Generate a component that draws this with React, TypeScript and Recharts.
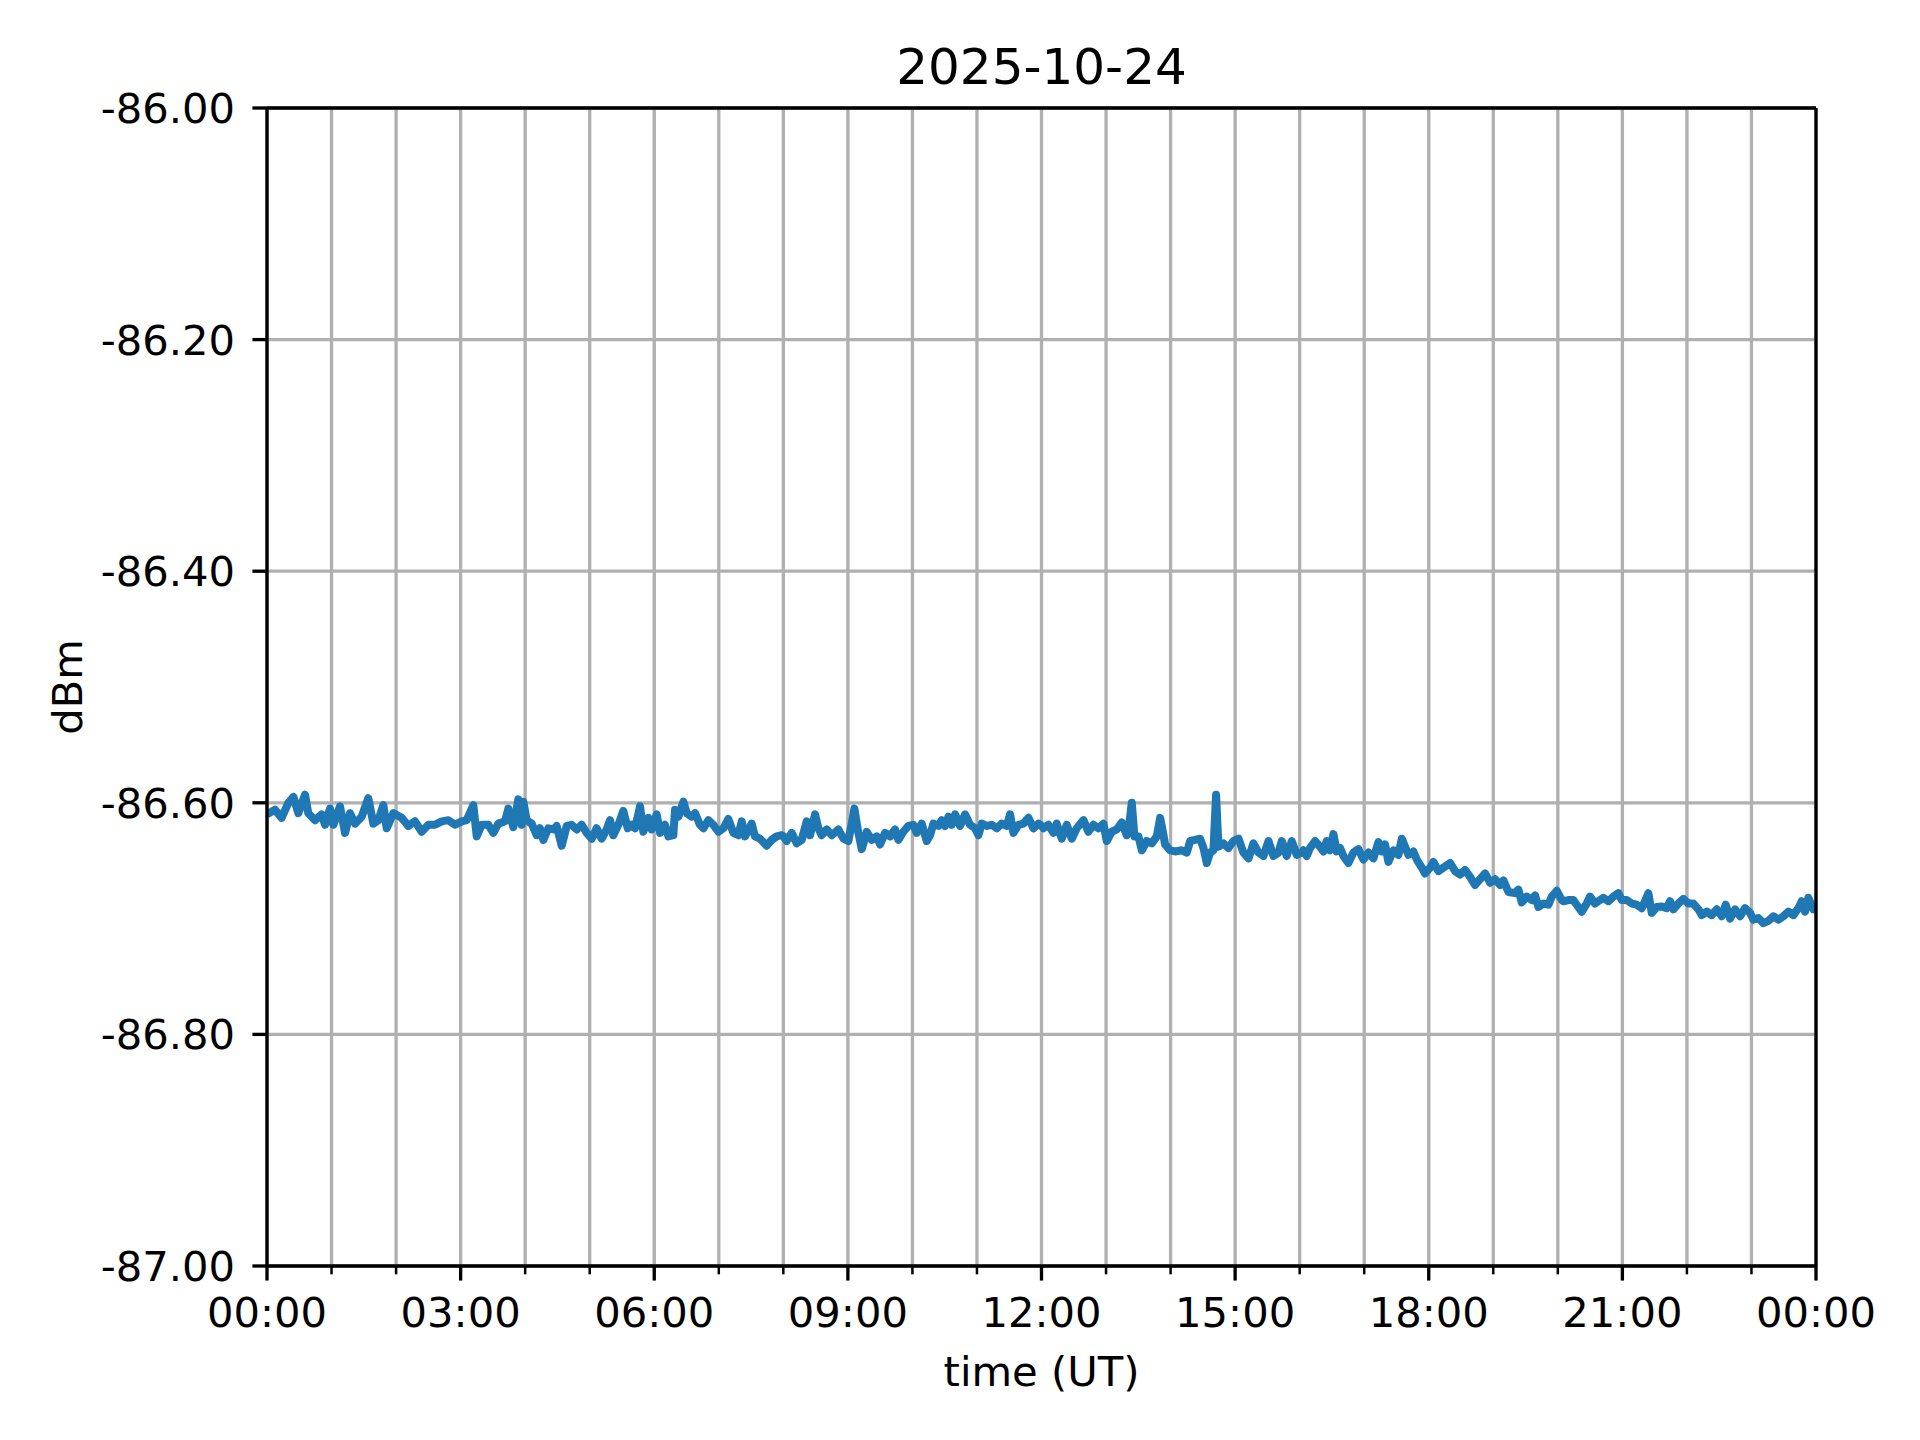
import React from "react";
import { LineChart, Line, XAxis, YAxis, CartesianGrid, ReferenceLine } from "recharts";

// Time in hours (UT) and received power in dBm, in 4-hour segments.
const seg00to04: [number, number][] = [
  [0, -86.61], [0.124, -86.606], [0.227, -86.613], [0.33, -86.6], [0.41, -86.595], [0.486, -86.609],
  [0.589, -86.593], [0.64, -86.609], [0.744, -86.615], [0.847, -86.61], [0.899, -86.619], [0.976, -86.605],
  [1.028, -86.619], [1.131, -86.603], [1.209, -86.626], [1.286, -86.609], [1.364, -86.618], [1.467, -86.612],
  [1.57, -86.596], [1.648, -86.618], [1.725, -86.615], [1.803, -86.602], [1.854, -86.622], [1.958, -86.609],
  [2.087, -86.613], [2.19, -86.62], [2.293, -86.616], [2.397, -86.625], [2.5, -86.619], [2.603, -86.619],
  [2.707, -86.616], [2.81, -86.615], [2.913, -86.619], [3.017, -86.616], [3.094, -86.615], [3.197, -86.602],
  [3.249, -86.629], [3.326, -86.619], [3.43, -86.619], [3.507, -86.626], [3.585, -86.618], [3.688, -86.616],
  [3.74, -86.605], [3.817, -86.621], [3.895, -86.597], [3.946, -86.619],
];
const seg04to08: [number, number][] = [
  [3.972, -86.599], [4.023, -86.615], [4.101, -86.618], [4.178, -86.628], [4.23, -86.622], [4.282, -86.632],
  [4.359, -86.622], [4.437, -86.623], [4.488, -86.62], [4.566, -86.637], [4.643, -86.62], [4.721, -86.619],
  [4.798, -86.623], [4.876, -86.619], [4.953, -86.626], [5.031, -86.631], [5.108, -86.622], [5.186, -86.631],
  [5.263, -86.623], [5.315, -86.615], [5.366, -86.628], [5.444, -86.619], [5.521, -86.607], [5.589, -86.622],
  [5.651, -86.619], [5.702, -86.622], [5.78, -86.603], [5.831, -86.625], [5.909, -86.613], [5.96, -86.623],
  [6.038, -86.61], [6.09, -86.626], [6.167, -86.619], [6.219, -86.629], [6.296, -86.628], [6.322, -86.606],
  [6.374, -86.612], [6.451, -86.599], [6.503, -86.609], [6.58, -86.612], [6.632, -86.609], [6.709, -86.619],
  [6.761, -86.622], [6.839, -86.615], [6.916, -86.619], [6.994, -86.625], [7.071, -86.622], [7.148, -86.614],
  [7.226, -86.626], [7.303, -86.628], [7.355, -86.616], [7.407, -86.629], [7.51, -86.618], [7.561, -86.629],
  [7.639, -86.631], [7.742, -86.637], [7.82, -86.632], [7.897, -86.629], [7.975, -86.628],
];
const seg08to12: [number, number][] = [
  [8.001, -86.629], [8.052, -86.633], [8.13, -86.626], [8.207, -86.635], [8.285, -86.632], [8.362, -86.616],
  [8.414, -86.628], [8.492, -86.61], [8.543, -86.622], [8.595, -86.628], [8.672, -86.623], [8.75, -86.628],
  [8.853, -86.623], [8.931, -86.631], [9.008, -86.633], [9.06, -86.618], [9.101, -86.605], [9.153, -86.623],
  [9.215, -86.64], [9.292, -86.625], [9.37, -86.632], [9.447, -86.629], [9.499, -86.636], [9.576, -86.626],
  [9.654, -86.629], [9.731, -86.623], [9.783, -86.632], [9.86, -86.625], [9.938, -86.62], [10.015, -86.619],
  [10.067, -86.626], [10.144, -86.618], [10.222, -86.633], [10.274, -86.628], [10.325, -86.618], [10.403, -86.62],
  [10.454, -86.615], [10.506, -86.62], [10.558, -86.612], [10.609, -86.619], [10.661, -86.61], [10.738, -86.62],
  [10.816, -86.61], [10.893, -86.619], [10.971, -86.622], [11.023, -86.628], [11.074, -86.618], [11.152, -86.62],
  [11.229, -86.619], [11.307, -86.622], [11.384, -86.618], [11.462, -86.62], [11.513, -86.61], [11.565, -86.626],
  [11.642, -86.619], [11.72, -86.618], [11.797, -86.613], [11.875, -86.622], [11.952, -86.618], [12.004, -86.62],
];
const seg12to16: [number, number][] = [
  [12.03, -86.622], [12.107, -86.619], [12.185, -86.626], [12.236, -86.618], [12.314, -86.631], [12.391, -86.619],
  [12.469, -86.631], [12.546, -86.622], [12.65, -86.615], [12.727, -86.625], [12.805, -86.619], [12.882, -86.622],
  [12.96, -86.618], [13.011, -86.633], [13.089, -86.625], [13.166, -86.623], [13.244, -86.617], [13.321, -86.628],
  [13.357, -86.62], [13.399, -86.6], [13.44, -86.629], [13.502, -86.629], [13.554, -86.641], [13.631, -86.633],
  [13.709, -86.635], [13.786, -86.629], [13.838, -86.613], [13.874, -86.623], [13.915, -86.636], [13.993, -86.641],
  [14.07, -86.642], [14.173, -86.641], [14.251, -86.643], [14.303, -86.633], [14.38, -86.632], [14.457, -86.631],
  [14.509, -86.639], [14.561, -86.652], [14.612, -86.643], [14.664, -86.641], [14.705, -86.593], [14.742, -86.638],
  [14.819, -86.635], [14.897, -86.639], [14.974, -86.633], [15.052, -86.631], [15.129, -86.643], [15.207, -86.648],
  [15.284, -86.635], [15.362, -86.643], [15.439, -86.646], [15.517, -86.633], [15.594, -86.646], [15.672, -86.643],
  [15.723, -86.633], [15.8, -86.646], [15.878, -86.633], [15.955, -86.645], [16.033, -86.643],
];
const seg16to20: [number, number][] = [
  [16.058, -86.641], [16.11, -86.646], [16.161, -86.639], [16.239, -86.633], [16.316, -86.638], [16.368, -86.642],
  [16.419, -86.633], [16.471, -86.641], [16.523, -86.627], [16.574, -86.642], [16.626, -86.639], [16.678, -86.646],
  [16.755, -86.652], [16.833, -86.643], [16.91, -86.64], [16.988, -86.649], [17.065, -86.643], [17.143, -86.648],
  [17.22, -86.634], [17.272, -86.642], [17.323, -86.636], [17.375, -86.651], [17.452, -86.641], [17.53, -86.645],
  [17.582, -86.631], [17.633, -86.638], [17.685, -86.645], [17.762, -86.642], [17.814, -86.649], [17.892, -86.656],
  [17.943, -86.661], [18.021, -86.656], [18.072, -86.651], [18.15, -86.659], [18.227, -86.656], [18.331, -86.652],
  [18.408, -86.659], [18.485, -86.662], [18.563, -86.658], [18.64, -86.664], [18.718, -86.671], [18.795, -86.666],
  [18.873, -86.661], [18.95, -86.669], [19.028, -86.666], [19.105, -86.671], [19.157, -86.667], [19.234, -86.677],
  [19.338, -86.678], [19.39, -86.675], [19.441, -86.686], [19.519, -86.681], [19.596, -86.684], [19.648, -86.68],
  [19.7, -86.69], [19.777, -86.687], [19.854, -86.688], [19.906, -86.681], [19.984, -86.676], [20.061, -86.684],
];
const seg20to24: [number, number][] = [
  [20.086, -86.685], [20.163, -86.684], [20.241, -86.684], [20.292, -86.688], [20.37, -86.694], [20.447, -86.687],
  [20.499, -86.681], [20.577, -86.687], [20.654, -86.684], [20.706, -86.682], [20.783, -86.685], [20.861, -86.681],
  [20.938, -86.678], [20.99, -86.684], [21.067, -86.684], [21.145, -86.687], [21.222, -86.688], [21.3, -86.691],
  [21.351, -86.685], [21.403, -86.678], [21.455, -86.695], [21.532, -86.69], [21.61, -86.6895], [21.687, -86.691],
  [21.739, -86.685], [21.79, -86.692], [21.868, -86.687], [21.945, -86.683], [22.023, -86.687], [22.1, -86.687],
  [22.178, -86.692], [22.229, -86.697], [22.307, -86.694], [22.384, -86.697], [22.462, -86.692], [22.539, -86.698],
  [22.601, -86.688], [22.668, -86.7], [22.746, -86.692], [22.823, -86.698], [22.901, -86.691], [22.978, -86.695],
  [23.03, -86.701], [23.107, -86.6996], [23.185, -86.704], [23.262, -86.702], [23.34, -86.698], [23.417, -86.701],
  [23.495, -86.698], [23.572, -86.694], [23.65, -86.697], [23.727, -86.691], [23.779, -86.685], [23.831, -86.694],
  [23.882, -86.682], [23.96, -86.692], [24, -86.69],
];

const xTicks = [0, 1, 2, 3, 4, 5, 6, 7, 8, 9, 10, 11, 12, 13, 14, 15, 16, 17, 18, 19, 20, 21, 22, 23, 24];
const yTicks = [-87, -86.8, -86.6, -86.4, -86.2, -86];
const title = "2025-10-24";
const xLabel = "time (UT)";
const yLabel = "dBm";

const data = [...seg00to04, ...seg04to08, ...seg08to12, ...seg12to16, ...seg16to20, ...seg20to24].map(
  ([h, v]) => ({ h, v })
);

const FONT = "'DejaVu Sans', sans-serif";
const FS = 41.67;

const fmtHour = (h: number) => String(h % 24).padStart(2, "0") + ":00";

const XTick = (props: any) => {
  const { x, y, payload } = props;
  const h = payload.value as number;
  const major = h % 3 === 0;
  return (
    <g>
      <line x1={x} x2={x} y1={y} y2={y + (major ? 14.58 : 8.33)} stroke="#000" strokeWidth={major ? 3.33 : 2.5} />
      {major && (
        <text x={x} y={y + 61} textAnchor="middle" fontSize={FS} fontFamily={FONT} fill="#000">
          {fmtHour(h)}
        </text>
      )}
    </g>
  );
};

const YTick = (props: any) => {
  const { x, y, payload } = props;
  const v = payload.value as number;
  return (
    <g>
      <line x1={x - 14.58} x2={x} y1={y} y2={y} stroke="#000" strokeWidth={3.33} />
      <text x={x - 32} y={y + 15} textAnchor="end" fontSize={FS} fontFamily={FONT} fill="#000">
        {v.toFixed(2)}
      </text>
    </g>
  );
};

export default function App() {
  return (
    <div style={{ position: "absolute", left: 0, top: 0, width: 1920, height: 1440, background: "#fff" }}>
      <LineChart
        width={1920}
        height={1440}
        data={data}
        margin={{ top: 108, right: 104, bottom: 0, left: 0 }}
      >
        <CartesianGrid stroke="#b0b0b0" strokeWidth={3.33} />
        <XAxis
          dataKey="h"
          type="number"
          domain={[0, 24]}
          ticks={xTicks}
          interval={0}
          height={174}
          tickSize={0}
          tickMargin={0}
          tickLine={false}
          tick={<XTick />}
          axisLine={{ stroke: "#000", strokeWidth: 3.33 }}
          allowDataOverflow
        />
        <YAxis
          type="number"
          domain={[-87, -86]}
          ticks={yTicks}
          interval={0}
          width={267}
          tickSize={0}
          tickMargin={0}
          tickLine={false}
          tick={<YTick />}
          axisLine={{ stroke: "#000", strokeWidth: 3.33 }}
          allowDataOverflow
        />
        <Line
          dataKey="v"
          type="linear"
          stroke="#1f77b4"
          strokeWidth={8}
          strokeLinejoin="round"
          strokeLinecap="round"
          dot={false}
          activeDot={false}
          isAnimationActive={false}
        />
        <ReferenceLine y={-86} stroke="#000" strokeWidth={3.33} />
        <ReferenceLine x={24} stroke="#000" strokeWidth={3.33} />
      </LineChart>
      <svg
        width={1920}
        height={1440}
        style={{ position: "absolute", left: 0, top: 0, pointerEvents: "none" }}
      >
        <text x={1041.5} y={84} textAnchor="middle" fontSize={50} fontFamily={FONT} fill="#000">
          {title}
        </text>
        <text x={1041.5} y={1386} textAnchor="middle" fontSize={FS} fontFamily={FONT} fill="#000">
          {xLabel}
        </text>
        <text
          x={82}
          y={687}
          textAnchor="middle"
          fontSize={FS}
          fontFamily={FONT}
          fill="#000"
          transform="rotate(-90, 82, 687)"
        >
          {yLabel}
        </text>
      </svg>
    </div>
  );
}
